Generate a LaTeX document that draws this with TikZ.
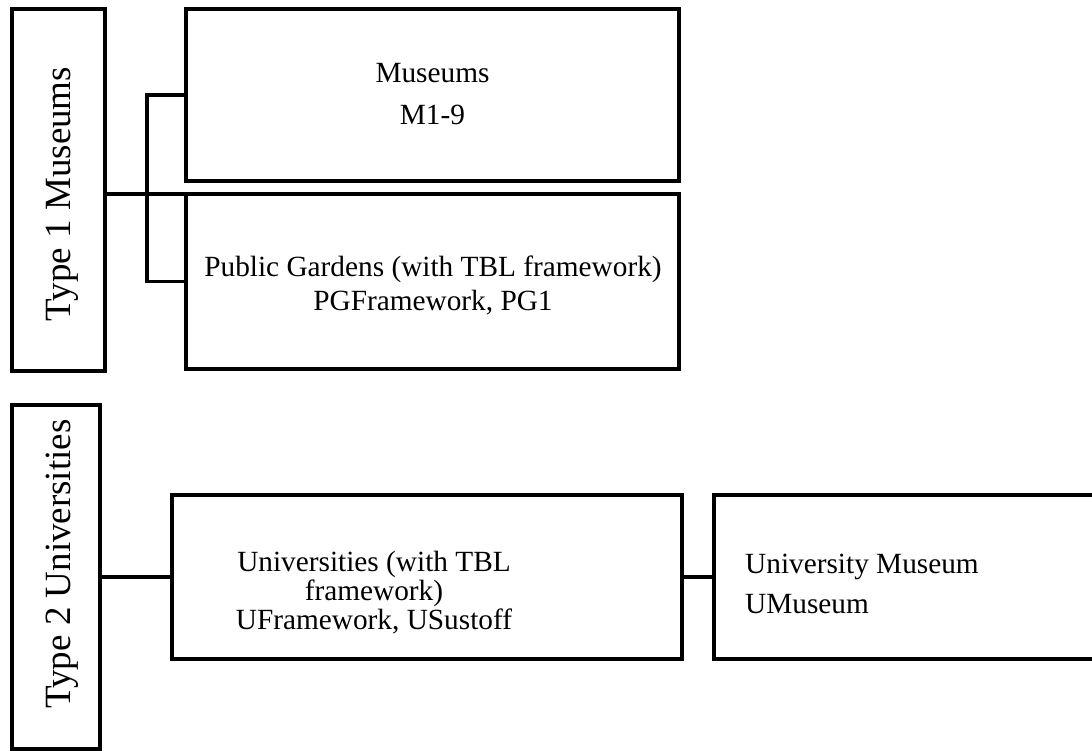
\documentclass[tikz,border=0pt]{standalone}
\usepackage{fontspec}
\setmainfont{Liberation Serif}
\tikzset{
	box/.style={draw, line width=3.4pt, inner sep=0pt, outer sep=0pt}, % Cajas con borde grueso
	boxtext/.style={inner sep=0pt, align=center, font=\fontsize{29.3}{42}\selectfont}, % Texto de las cajas
	typetext/.style={inner sep=0pt, rotate=90, font=\fontsize{37}{44}\selectfont}, % Texto vertical de los tipos
	link/.style={line width=3.2pt} % Lineas de union
}

\begin{document}
\begin{tikzpicture}[x=1pt, y=-1pt]
	\path[use as bounding box, clip] (0,0) rectangle (1092,751);
	\node[box, minimum width=93pt, minimum height=362pt] (t1) at (58.5,190) {};
	\node[box, minimum width=493pt, minimum height=172pt] (m1) at (432.5,95) {};
	\node[box, minimum width=493pt, minimum height=175pt] (pg) at (432.5,281.5) {};
	\node[box, minimum width=88pt, minimum height=344pt] (t2) at (56,577) {};
	\node[box, minimum width=510pt, minimum height=164pt] (u1) at (427,577) {};
	\node[box, minimum width=406pt, minimum height=164pt] (um) at (917,577) {};
	\node[typetext] (t1text) at (62,194) {Type 1 Museums};
	\node[typetext] (t2text) at (62,564) {Type 2 Universities};
	\node[boxtext] (m1text) at (432.5,94) {Museums\\M1-9};
	\node[boxtext, font=\fontsize{29.3}{34}\selectfont] (pgtext) at (433,285) {Public Gardens (with TBL framework)\\PGFramework, PG1};
	\node[boxtext, font=\fontsize{29.3}{29}\selectfont] (u1text) at (374,593) {Universities (with TBL\\framework)\\UFramework, USustoff};
	\node[boxtext, align=left, anchor=west, font=\fontsize{29.3}{40}\selectfont] (umtext) at (745,584) {University Museum\\UMuseum};
	\draw[link] (t1.east |- pg.north west) -- (pg.north west);
	\draw[link] (m1.west) -- ++(-39,0) |- (pg.west);
	\draw[link] (t2.east) -- (u1.west);
	\draw[link] (u1.east) -- (um.west);
\end{tikzpicture}
\end{document}
